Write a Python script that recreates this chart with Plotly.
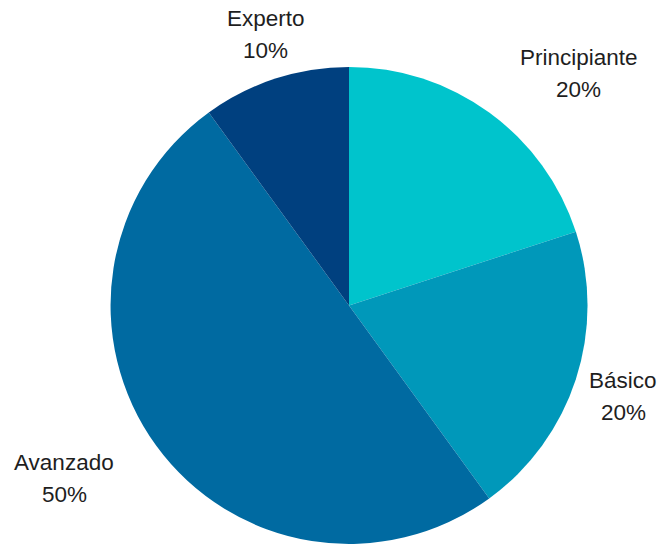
import plotly.graph_objects as go

categories = ["Principiante", "Básico", "Avanzado", "Experto"]
values = [20, 20, 50, 10]
colors = ["#00C4CC", "#0098BA", "#006AA1", "#00407F"]

# label placement (paper coords) for outside labels
label_pos = {
    "Principiante": (0.8746, 0.864),
    "Básico": (0.9411, 0.2711),
    "Avanzado": (0.0967, 0.1213),
    "Experto": (0.4018, 0.9375),
}

total = sum(values)
fig = go.Figure(
    go.Pie(
        labels=categories,
        values=values,
        sort=False,
        direction="clockwise",
        rotation=0,
        marker=dict(colors=colors, line=dict(width=0)),
        textinfo="none",
        hoverinfo="label+percent",
        domain=dict(x=[110 / 662, 588 / 662], y=[0, 0.877]),
        showlegend=False,
    )
)

font = dict(family="Liberation Sans, Arial, sans-serif", size=22.5, color="#1e1e1e")
annotations = []
for cat, val in zip(categories, values):
    x, y = label_pos[cat]
    for txt, shift in ((cat, 16), (f"{round(val / total * 100)}%", -16)):
        annotations.append(
            dict(
                x=x, y=y, xref="paper", yref="paper", yshift=shift,
                text=txt, showarrow=False, xanchor="center", yanchor="middle",
                align="center", font=font,
            )
        )

fig.update_layout(
    width=662, height=544,
    margin=dict(l=0, r=0, t=0, b=0),
    paper_bgcolor="white", plot_bgcolor="white",
    annotations=annotations,
)

fig.write_html("out.html")
